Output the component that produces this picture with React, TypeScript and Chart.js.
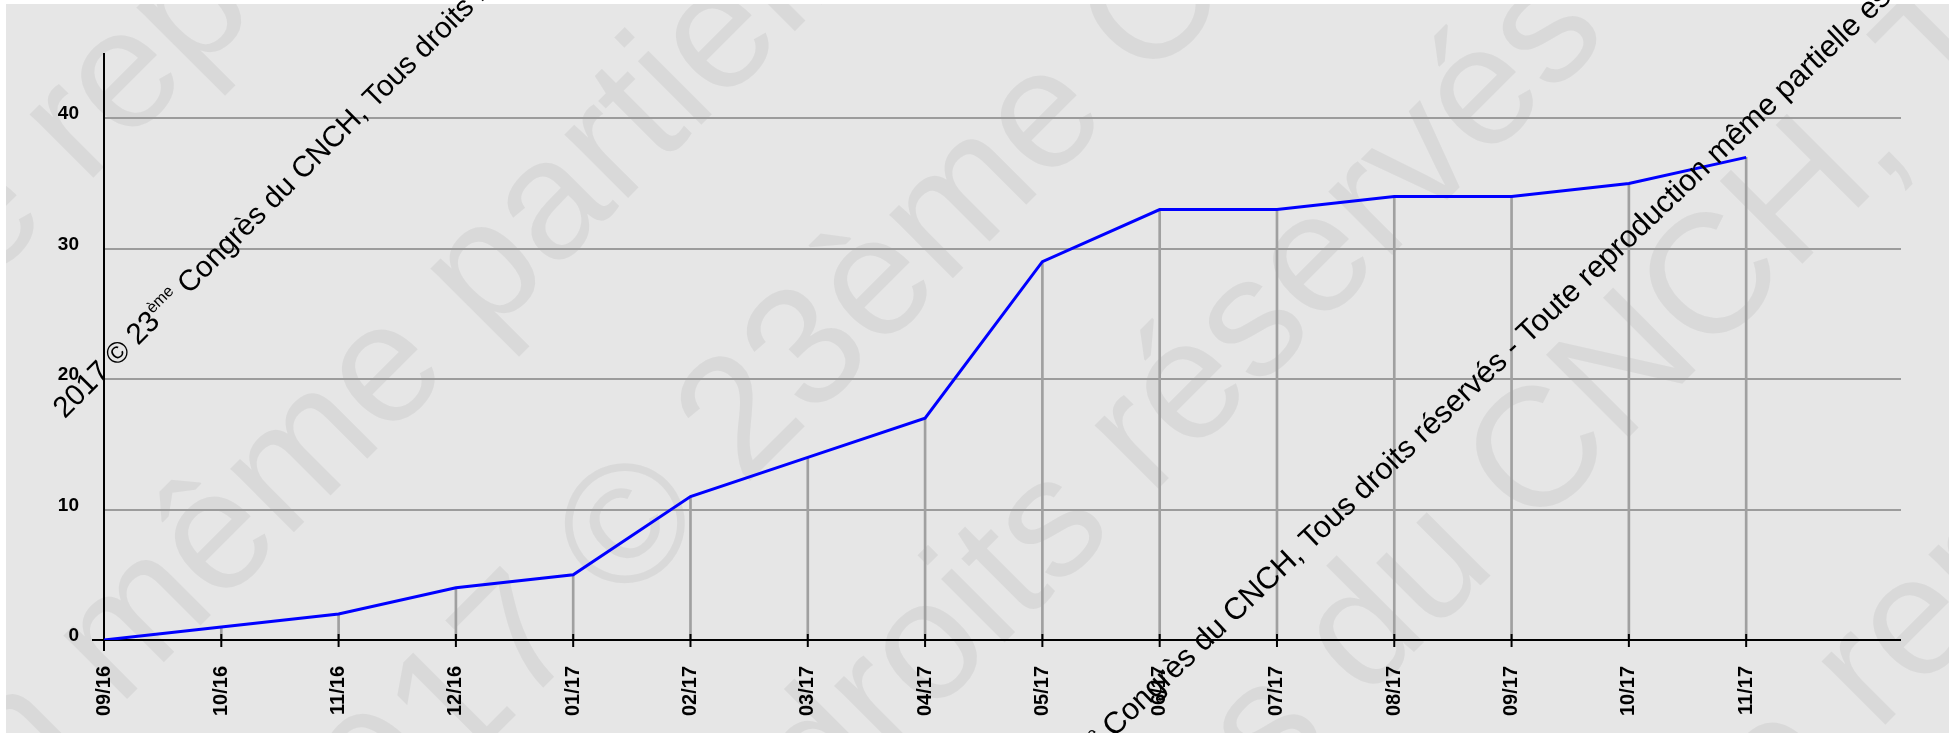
import React, { useEffect, useRef } from 'react';
import { Chart, registerables } from 'chart.js';

Chart.register(...registerables);

// ---- data ----
const monthLabels = ['09/16', '10/16', '11/16', '12/16', '01/17', '02/17', '03/17', '04/17', '05/17', '06/17', '07/17', '08/17', '09/17', '10/17', '11/17'];
const cumulativeCount = [0, 1, 2, 4, 5, 11, 14, 17, 29, 33, 33, 34, 34, 35, 37];
const yTickValues = [0, 10, 20, 30, 40];
const yAxisMax = 45;
const xAxisMax = 15.32;

// ---- watermark text ----
const phrase = '2017 © 23ème Congrès du CNCH, Tous droits réservés - Toute reproduction même partielle est interdite ';
const bigLines = [
  { anchor: 'reproduction', x: 85, y: 186 },
  { anchor: 'partielle', x: 486, y: 340 },
  { anchor: '©', x: 622, y: 609 },
  { anchor: 'réservés', x: 1150, y: 497 },
  { anchor: 'CNCH', x: 1532, y: 534 },
  { anchor: 'reproduction', x: 1877, y: 733 },
];
const blackLines = [
  { x: 189, y: 295, size: 29.5, deg: 45 },
  { x: 1114, y: 738, size: 30.5, deg: 43.5 },
];

const SANS = "'Liberation Sans', Arial, sans-serif";
const ANGLE = Math.PI / 4;

const bgPlugin = {
  id: 'bgPlugin',
  beforeDraw(chart: any) {
    const ctx = chart.ctx as CanvasRenderingContext2D;
    ctx.save();
    ctx.fillStyle = '#ffffff';
    ctx.fillRect(0, 0, chart.width, chart.height);
    ctx.fillStyle = '#e6e6e6';
    ctx.fillRect(6, 4, chart.width - 6, chart.height - 4);
    ctx.beginPath();
    ctx.rect(6, 4, chart.width - 6, chart.height - 4);
    ctx.clip();
    ctx.font = `170px ${SANS}`;
    ctx.fillStyle = 'rgba(0,0,0,0.055)';
    ctx.textBaseline = 'alphabetic';
    ctx.textAlign = 'left';
    const c = Math.cos(ANGLE), s = Math.sin(ANGLE);
    for (const l of bigLines) {
      const idx = phrase.indexOf(l.anchor);
      const prefix = phrase + phrase.slice(0, idx);
      const w = ctx.measureText(prefix).width;
      ctx.save();
      ctx.translate(l.x - w * c, l.y + w * s);
      ctx.rotate(-ANGLE);
      ctx.fillText(phrase + phrase + phrase, 0, 0);
      ctx.restore();
    }
    ctx.restore();
  },
};

const axesPlugin = {
  id: 'axesPlugin',
  afterDatasetDraw(chart: any, args: any) {
    if (args.index !== 1) return;
    const ctx = chart.ctx as CanvasRenderingContext2D;
    const xs = chart.scales.x;
    const ys = chart.scales.y;
    const y0 = ys.getPixelForValue(0);
    const x0 = xs.getPixelForValue(0);
    ctx.save();
    ctx.strokeStyle = '#000';
    ctx.lineWidth = 2;
    ctx.beginPath();
    ctx.moveTo(x0, chart.chartArea.top);
    ctx.lineTo(x0, y0 + 11);
    ctx.moveTo(x0 - 12, y0);
    ctx.lineTo(chart.chartArea.right, y0);
    for (let i = 1; i < monthLabels.length; i++) {
      const px = xs.getPixelForValue(i);
      ctx.moveTo(px, y0 - 6);
      ctx.lineTo(px, y0 + 7);
    }
    ctx.stroke();
    ctx.restore();
  },
};

const textPlugin = {
  id: 'textPlugin',
  afterDraw(chart: any) {
    const ctx = chart.ctx as CanvasRenderingContext2D;
    const a = '2017 © 23';
    const b = 'ème';
    const rest = ' Congrès du CNCH, Tous droits réservés - Toute reproduction même partielle est interdite';
    ctx.save();
    ctx.fillStyle = '#000';
    ctx.textBaseline = 'alphabetic';
    ctx.textAlign = 'left';
    for (const l of blackLines) {
      const size = l.size;
      const ang = (l.deg * Math.PI) / 180;
      const c = Math.cos(ang), s = Math.sin(ang);
      const main = `${size}px ${SANS}`;
      const sup = `${Math.round(size * 0.55)}px ${SANS}`;
      ctx.font = main;
      const wa = ctx.measureText(a).width;
      const wsp = ctx.measureText(' ').width;
      ctx.font = sup;
      const wb = ctx.measureText(b).width;
      const pre = wa + wb + wsp;
      ctx.save();
      ctx.translate(l.x - pre * c, l.y + pre * s);
      ctx.rotate(-ang);
      ctx.font = main;
      ctx.fillText(a, 0, 0);
      ctx.font = sup;
      ctx.fillText(b, wa, -size * 0.42);
      ctx.font = main;
      ctx.fillText(rest, wa + wb, 0);
      ctx.restore();
    }
    ctx.restore();
  },
};

export default function App() {
  const ref = useRef<HTMLCanvasElement>(null);
  useEffect(() => {
    const canvas = ref.current!;
    const points = cumulativeCount.map((v, i) => ({ x: i, y: v }));
    const chart = new Chart(canvas, {
      type: 'line',
      data: {
        datasets: [
          {
            type: 'line',
            data: points,
            borderColor: '#0000ff',
            borderWidth: 3,
            pointRadius: 0,
            tension: 0,
            fill: false,
            order: 1,
          } as any,
          {
            type: 'bar',
            data: points,
            backgroundColor: '#a0a0a0',
            barThickness: 2,
            order: 2,
          } as any,
        ],
      },
      options: {
        responsive: false,
        animation: false,
        devicePixelRatio: 1,
        layout: { padding: { top: 53, right: 48, bottom: 0, left: 0 } },
        plugins: { legend: { display: false }, tooltip: { enabled: false } },
        scales: {
          x: {
            type: 'linear',
            min: 0,
            max: xAxisMax,
            offset: false,
            grid: { display: false },
            border: { display: false },
            afterBuildTicks: (sc: any) => {
              sc.ticks = monthLabels.map((_, i) => ({ value: i }));
            },
            afterFit: (sc: any) => {
              sc.height = 93;
            },
            ticks: {
              autoSkip: false,
              maxRotation: 90,
              minRotation: 90,
              padding: 18,
              color: '#000',
              font: { family: SANS, size: 20, weight: 'bold' },
              callback: (v: any) => monthLabels[v] ?? '',
            },
          },
          y: {
            type: 'linear',
            min: 0,
            max: yAxisMax,
            afterBuildTicks: (sc: any) => {
              sc.ticks = yTickValues.map((v) => ({ value: v }));
            },
            afterFit: (sc: any) => {
              sc.width = 104;
            },
            grid: { color: '#9c9c9c', lineWidth: 2, drawTicks: false },
            border: { display: false },
            ticks: {
              padding: 25,
              labelOffset: -4,
              color: '#000',
              font: { family: SANS, size: 19, weight: 'bold' },
            },
          },
        },
      } as any,
      plugins: [bgPlugin, axesPlugin, textPlugin],
    });
    return () => chart.destroy();
  }, []);
  return (
    <div style={{ position: 'absolute', left: 0, top: 0, width: 1949, height: 733 }}>
      <canvas ref={ref} width={1949} height={733} style={{ display: 'block' }} />
    </div>
  );
}
